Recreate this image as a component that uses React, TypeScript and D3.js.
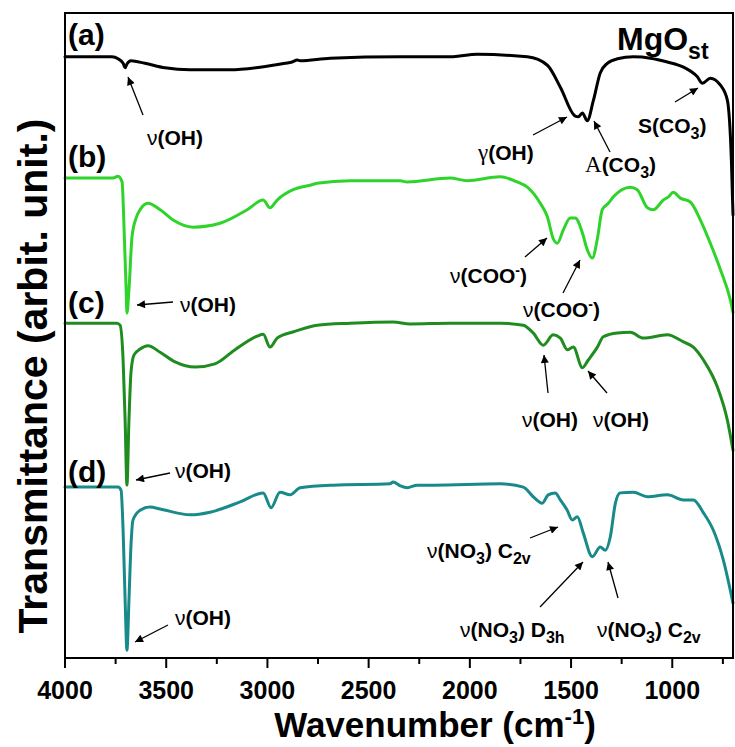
import React from "react";
import * as d3 from "d3";

// x axis
const majorTicks = [4000, 3500, 3000, 2500, 2000, 1500, 1000];
const minorTicks = [3750, 3250, 2750, 2250, 1750, 1250, 750];

// spectra: [wavenumber, transmittance (arb.)]
const specA: [number, number][] = [
  [4000, 93.2], [3768, 93.2], [3738, 92.9], [3713, 92.2], [3703, 91.5], [3694, 92.1],
  [3674, 92.6], [3605, 92.2], [3506, 91.5], [3382, 91.2], [3184, 91.2], [3036, 91.6],
  [2913, 92.2], [2878, 92.4], [2853, 92.7], [2838, 92.6], [2690, 93.0], [2344, 93.2],
  [2097, 93.2], [1963, 93.6], [1716, 93.2], [1617, 91.9], [1553, 88.5], [1479, 84.0],
  [1464, 83.9], [1444, 84.5], [1420, 83.3], [1390, 86.4], [1356, 90.7], [1321, 92.2],
  [1271, 92.9], [1192, 93.2], [1108, 93.0], [1024, 92.4], [945, 91.6], [876, 90.1],
  [851, 89.1], [812, 89.9], [762, 88.8], [728, 86.5], [708, 77.2], [700, 68.7],
];

const specB: [number, number][] = [
  [4000, 74.4], [3763, 74.4], [3738, 74.7], [3718, 73.8], [3708, 66.4], [3698, 57.1],
  [3694, 53.5], [3684, 57.1], [3669, 65.3], [3649, 68.2], [3629, 69.5], [3590, 70.5],
  [3530, 69.5], [3466, 67.9], [3367, 66.8], [3234, 67.4], [3100, 69.5], [3021, 71.0],
  [2987, 69.8], [2952, 71.0], [2873, 72.6], [2789, 73.3], [2755, 73.6], [2592, 74.0],
  [2344, 74.0], [2310, 73.8], [2097, 74.4], [2013, 74.0], [1850, 74.6], [1766, 73.8],
  [1716, 73.0], [1652, 70.5], [1617, 68.4], [1588, 65.0], [1568, 64.3], [1538, 66.4],
  [1504, 68.2], [1479, 68.2], [1444, 65.9], [1420, 63.3], [1395, 62.0], [1370, 65.0],
  [1346, 69.5], [1316, 70.5], [1291, 71.5], [1207, 73.0], [1173, 72.6], [1123, 69.8],
  [1094, 69.5], [1044, 71.0], [1019, 71.5], [995, 72.2], [960, 71.3], [911, 70.7],
  [861, 67.9], [812, 64.3], [762, 60.2], [713, 55.5], [700, 53.6],
];

const specC: [number, number][] = [
  [4000, 51.9], [3743, 51.9], [3728, 51.6], [3713, 46.2], [3703, 36.9], [3694, 26.8],
  [3684, 36.9], [3674, 44.3], [3659, 47.0], [3629, 47.9], [3590, 48.4], [3530, 47.4],
  [3456, 45.9], [3357, 45.1], [3259, 45.6], [3160, 47.8], [3051, 49.9], [3021, 50.2],
  [2987, 48.2], [2952, 49.6], [2922, 50.1], [2878, 50.5], [2754, 51.6], [2591, 51.9],
  [2379, 52.1], [2295, 51.8], [2097, 51.9], [1850, 51.9], [1736, 51.6], [1687, 50.4],
  [1637, 48.5], [1588, 50.1], [1553, 49.6], [1519, 47.8], [1489, 48.2], [1444, 45.0],
  [1415, 46.2], [1370, 48.2], [1341, 49.8], [1271, 50.4], [1207, 50.5], [1143, 49.6],
  [1024, 50.1], [945, 49.0], [896, 48.2], [846, 46.2], [777, 42.0], [728, 36.9],
  [700, 32.2],
];

const specD: [number, number][] = [
  [4000, 26.5], [3738, 26.5], [3723, 26.0], [3713, 19.8], [3703, 9.0], [3694, 1.2],
  [3684, 9.0], [3674, 17.5], [3664, 21.4], [3629, 22.9], [3580, 23.4], [3530, 23.1],
  [3382, 22.2], [3283, 22.6], [3135, 24.2], [3021, 25.6], [2982, 23.3], [2938, 25.7],
  [2888, 25.3], [2838, 26.4], [2675, 26.8], [2394, 27.0], [2379, 27.3], [2344, 26.7],
  [2310, 26.4], [2260, 26.8], [2181, 26.8], [1850, 27.0], [1736, 26.5], [1687, 25.0],
  [1642, 24.0], [1613, 25.3], [1578, 25.6], [1553, 24.5], [1519, 22.9], [1494, 21.4],
  [1469, 21.9], [1440, 19.4], [1395, 15.7], [1356, 17.2], [1331, 16.7], [1306, 18.8],
  [1281, 24.0], [1257, 25.6], [1192, 25.7], [1123, 25.0], [1024, 25.3], [945, 24.5],
  [896, 24.5], [846, 22.5], [797, 19.8], [748, 15.2], [700, 8.5],
];

const spectra = [
  { key: "a", data: specA, color: "#000000" },
  { key: "b", data: specB, color: "#2fd42a" },
  { key: "c", data: specC, color: "#1f8c1f" },
  { key: "d", data: specD, color: "#198a8a" },
];

const FONT = "'Liberation Sans', Arial, sans-serif";
const SERIF = "'Liberation Serif', 'Times New Roman', serif";

const Nu = () => <tspan fontWeight="normal">ν</tspan>;

const Arrow = ({ x1, y1, x2, y2 }: any) => (
  <line x1={x1} y1={y1} x2={x2} y2={y2} stroke="#000" strokeWidth={1.3} markerEnd="url(#ah)" />
);

// ν(NO3) X_sub label
const NitrateLabel = ({ x, y, sym, sub, style }: any) => (
  <text x={x} y={y} {...style}>
    <Nu />(NO<tspan dy={6} fontSize={16}>3</tspan>
    <tspan dy={-6}>) {sym}</tspan>
    <tspan dy={6} fontSize={16}>{sub}</tspan>
  </text>
);

const CarbonateLabel = ({ x, y, head, style }: any) => (
  <text x={x} y={y} {...style}>
    {head}(CO<tspan dy={6} fontSize={16}>3</tspan>
    <tspan dy={-6}>)</tspan>
  </text>
);

export default function App() {
  const width = 735;
  const height = 747;
  const left = 65, right = 733, top = 13, bottom = 658;

  const x = d3.scaleLinear().domain([4000, 700]).range([left, right]);
  const y = d3.scaleLinear().domain([0, 100]).range([bottom, top]);
  const line = d3
    .line<[number, number]>()
    .x((d) => x(d[0]))
    .y((d) => y(d[1]))
    .curve(d3.curveMonotoneX);

  const lab = { fontFamily: FONT, fontWeight: "bold" as const, fontSize: 21, fill: "#000" };

  return (
    <svg width={width} height={height} style={{ position: "absolute", left: 0, top: 0, background: "#fff" }}>
      <defs>
        <marker id="ah" viewBox="0 0 10 10" refX={10} refY={5} markerWidth={12} markerHeight={8}
          markerUnits="userSpaceOnUse" orient="auto">
          <path d="M0,0 L10,5 L0,10 z" fill="#000" />
        </marker>
      </defs>

      {spectra.map((s) => (
        <path key={s.key} d={line(s.data) || ""} fill="none" stroke={s.color}
          strokeWidth={3} strokeLinejoin="round" strokeLinecap="round" />
      ))}

      <rect x={left} y={top} width={right - left} height={bottom - top}
        fill="none" stroke="#000" strokeWidth={2} />

      {/* x axis ticks */}
      {majorTicks.map((t) => (
        <g key={t}>
          <line x1={x(t)} x2={x(t)} y1={bottom} y2={bottom + 10} stroke="#000" strokeWidth={2} />
          <text x={x(t)} y={699} textAnchor="middle" fontFamily={FONT} fontWeight="bold" fontSize={25}>{t}</text>
        </g>
      ))}
      {minorTicks.map((t) => (
        <line key={t} x1={x(t)} x2={x(t)} y1={bottom} y2={bottom + 6} stroke="#000" strokeWidth={2} />
      ))}

      <text x={435} y={737} textAnchor="middle" fontFamily={FONT} fontWeight="bold" fontSize={35}>
        Wavenumber (cm<tspan dy={-13} fontSize={22}>-1</tspan><tspan dy={13}>)</tspan>
      </text>
      <text transform="translate(47,376) rotate(-90)" textAnchor="middle" fontFamily={FONT}
        fontWeight="bold" fontSize={41}>
        Transmittance (arbit. unit.)
      </text>

      {/* series tags */}
      {[["(a)", 45], ["(b)", 167], ["(c)", 313], ["(d)", 482]].map(([t, yy]) => (
        <text key={t as string} x={68} y={yy as number} fontFamily={FONT} fontWeight="bold" fontSize={30}>{t}</text>
      ))}
      <text x={617} y={50} fontFamily={FONT} fontWeight="bold" fontSize={32}>
        MgO<tspan dy={9} fontSize={23}>st</tspan>
      </text>

      {/* (a) */}
      <text x={147} y={145} {...lab}><Nu />(OH)</text>
      <Arrow x1={143} y1={115} x2={128} y2={77} />
      <text x={478} y={160} {...lab}><tspan fontFamily={SERIF} fontWeight="normal" fontSize={23}>γ</tspan>(OH)</text>
      <Arrow x1={533} y1={135} x2={567} y2={117} />
      <CarbonateLabel x={585} y={172} style={lab}
        head={<tspan fontFamily={SERIF} fontWeight="normal" fontSize={23}>A</tspan>} />
      <Arrow x1={610} y1={152} x2={594} y2={121} />
      <CarbonateLabel x={638} y={133} style={lab} head="S" />
      <Arrow x1={675} y1={102} x2={698} y2={88} />

      {/* (b) */}
      <text x={180} y={312} {...lab}><Nu />(OH)</text>
      <Arrow x1={173} y1={302} x2={137} y2={305} />
      <text x={450} y={283} {...lab}><Nu />(COO<tspan dy={-8} fontSize={14}>-</tspan><tspan dy={8}>)</tspan></text>
      <Arrow x1={525} y1={257} x2={547} y2={238} />
      <text x={523} y={317} {...lab}><Nu />(COO<tspan dy={-8} fontSize={14}>-</tspan><tspan dy={8}>)</tspan></text>
      <Arrow x1={563} y1={293} x2={580} y2={260} />

      {/* (c) */}
      <text x={175} y={478} {...lab}><Nu />(OH)</text>
      <Arrow x1={170} y1={473} x2={136} y2={480} />
      <text x={522} y={427} {...lab}><Nu />(OH)</text>
      <Arrow x1={548} y1={393} x2={544} y2={355} />
      <text x={593} y={427} {...lab}><Nu />(OH)</text>
      <Arrow x1={607} y1={393} x2={588} y2={371} />

      {/* (d) */}
      <text x={175} y={625} {...lab}><Nu />(OH)</text>
      <Arrow x1={168} y1={625} x2={135} y2={642} />
      <NitrateLabel x={427} y={558} sym="C" sub="2v" style={lab} />
      <Arrow x1={530} y1={538} x2={558} y2={527} />
      <NitrateLabel x={460} y={637} sym="D" sub="3h" style={lab} />
      <Arrow x1={540} y1={607} x2={583} y2={562} />
      <NitrateLabel x={597} y={637} sym="C" sub="2v" style={lab} />
      <Arrow x1={618} y1={598} x2={608} y2={562} />
    </svg>
  );
}
